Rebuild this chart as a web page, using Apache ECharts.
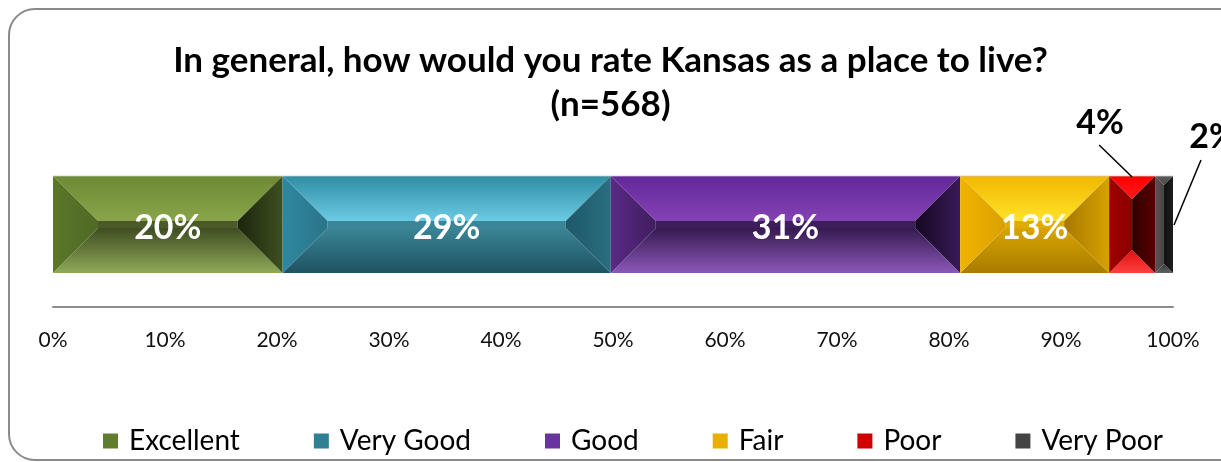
<!DOCTYPE html>
<html>
<head>
<meta charset="utf-8">
<script src="https://cdn.jsdelivr.net/npm/echarts@6/dist/echarts.min.js"></script>
<style>
html,body{margin:0;padding:0;background:#fff;}
#chart{width:1221px;height:462px;}
</style>
</head>
<body>
<div id="chart"></div>
<script>
// ---- data ----
const categories = ['Excellent', 'Very Good', 'Good', 'Fair', 'Poor', 'Very Poor'];
const values = [20.5, 29.3, 31.2, 13.3, 4.1, 1.6];
const valueLabels = ['20%', '29%', '31%', '13%', '4%', '2%'];
const tickLabels = ['0%', '10%', '20%', '30%', '40%', '50%', '60%', '70%', '80%', '90%', '100%'];
const titleText = 'In general, how would you rate Kansas as a place to live?\n(n=568)';

// ---- styles (bevel face colours) ----
const faces = {
  'Excellent': {top: ['#6e8a33', '#89a449'], bottom: ['#3f4d22', '#8fa958'], left: ['#5a772a', '#4e6a24'], right: ['#1b240c', '#3e5020'], mid: '#4a5a28', legend: '#5f7d2c'},
  'Very Good': {top: ['#2f8ea4', '#6ccbe4'], bottom: ['#3a8596', '#1f5262'], left: ['#2f88a0', '#2a7488'], right: ['#1d5868', '#2a6e80'], mid: '#3b8598', legend: '#2f7f95'},
  'Good': {top: ['#62289a', '#8442b4'], bottom: ['#351a50', '#8b58b8'], left: ['#5a2a86', '#3f1d5e'], right: ['#150822', '#3a1a58'], mid: '#3c1e5a', legend: '#6a34a0'},
  'Fair': {top: ['#f2b800', '#ffe22a'], bottom: ['#d8a400', '#a87c00'], left: ['#f0b400', '#d9a000'], right: ['#a87800', '#d6a200'], mid: '#e0ac00', legend: '#e8b000'},
  'Poor': {top: ['#ff0000', '#ff1a1a'], bottom: ['#e01010', '#ff4040'], left: ['#a00000', '#8a0000'], right: ['#300000', '#5a0000'], mid: '#900000', legend: '#d00000'},
  'Very Poor': {top: ['#5a5a5a', '#4a4a4a'], bottom: ['#3a3a3a', '#606060'], left: ['#555555', '#444444'], right: ['#0e0e0e', '#1e1e1e'], mid: '#222222', legend: '#444444'}
};
const FONT = 'Lato, "Open Sans", sans-serif';
const LABEL_FONT = 'bold 34px Lato, "Open Sans", sans-serif';

function grad(c, dir) {
  return dir === 'h'
    ? {type: 'linear', x: 0, y: 0, x2: 1, y2: 0, colorStops: [{offset: 0, color: c[0]}, {offset: 1, color: c[1]}]}
    : {type: 'linear', x: 0, y: 0, x2: 0, y2: 1, colorStops: [{offset: 0, color: c[0]}, {offset: 1, color: c[1]}]};
}

let cum = 0;
const series = categories.map(function (name, i) {
  const start = cum;
  cum += values[i];
  const f = faces[name];
  return {
    name: name,
    type: 'custom',
    itemStyle: {color: f.legend},
    encode: {x: [0, 1], y: 2},
    data: [[start, start + values[i], 0, values[i]]],
    renderItem: function (params, api) {
      const p1 = api.coord([api.value(0), 0]);
      const p2 = api.coord([api.value(1), 0]);
      const h = api.size([0, 1])[1];
      const x1 = p1[0], x2 = p2[0], cy = p1[1];
      const t = cy - h / 2, bot = cy + h / 2;
      const w = x2 - x1;
      const b = Math.min(45, w / 2, h / 2 - 2);
      const children = [
        {type: 'polygon', shape: {points: [[x1, t], [x2, t], [x2 - b, t + b], [x1 + b, t + b]]}, style: {fill: grad(f.top, 'v')}},
        {type: 'polygon', shape: {points: [[x1 + b, bot - b], [x2 - b, bot - b], [x2, bot], [x1, bot]]}, style: {fill: grad(f.bottom, 'v')}},
        {type: 'rect', shape: {x: x1 + b, y: t + b, width: Math.max(0, w - 2 * b), height: Math.max(0, h - 2 * b)}, style: {fill: f.mid}},
        {type: 'polygon', shape: {points: [[x1, t], [x1 + b, t + b], [x1 + b, bot - b], [x1, bot]]}, style: {fill: grad(f.left, 'h')}},
        {type: 'polygon', shape: {points: [[x2, t], [x2 - b, t + b], [x2 - b, bot - b], [x2, bot]]}, style: {fill: grad(f.right, 'h')}},
        {type: 'line', shape: {x1: x1, y1: t, x2: x2, y2: t}, style: {stroke: 'rgba(200,200,190,0.8)', lineWidth: 1}}
      ];
      const cx = (x1 + x2) / 2;
      const v = api.value(3);
      if (v >= 8) {
        children.push({type: 'text', style: {text: valueLabels[i], x: cx, y: cy + 4, align: 'center', verticalAlign: 'middle', fill: '#ffffff', font: LABEL_FONT}});
      } else if (v >= 3) {
        children.push({type: 'line', shape: {x1: cx - 33, y1: t - 31, x2: cx, y2: t + 1}, style: {stroke: '#000', lineWidth: 1.5}});
        children.push({type: 'text', style: {text: valueLabels[i], x: cx - 32, y: t - 53, align: 'center', verticalAlign: 'middle', fill: '#000', font: LABEL_FONT}});
      } else {
        children.push({type: 'line', shape: {x1: x2 + 28, y1: t - 16, x2: x2 + 1, y2: t + 49}, style: {stroke: '#000', lineWidth: 1.5}});
        children.push({type: 'text', style: {text: valueLabels[i], x: x2 + 40, y: t - 39, align: 'center', verticalAlign: 'middle', fill: '#000', font: LABEL_FONT}});
      }
      return {type: 'group', children: children};
    }
  };
});

const chart = echarts.init(document.getElementById('chart'), null, {renderer: 'canvas'});
chart.setOption({
  animation: false,
  backgroundColor: '#ffffff',
  graphic: [{
    type: 'rect', z: -10, silent: true,
    shape: {x: 9, y: 9, width: 1250, height: 451, r: 26},
    style: {fill: '#ffffff', stroke: '#8a8a8a', lineWidth: 2}
  }],
  title: {
    text: titleText,
    left: 'center', top: 34,
    textStyle: {fontFamily: FONT, fontWeight: 'bold', fontSize: 35, lineHeight: 44, color: '#000'}
  },
  grid: {left: 53, right: 48, top: 176, height: 97, containLabel: false},
  xAxis: {
    type: 'value', min: 0, max: 100, interval: 10, offset: 34,
    axisLine: {show: true, lineStyle: {color: '#8c8c8c', width: 2}},
    axisTick: {show: false},
    splitLine: {show: false},
    axisLabel: {
      margin: 23, color: '#111', fontSize: 21, fontFamily: FONT,
      formatter: function (v) { return tickLabels[Math.round(v / 10)]; }
    }
  },
  yAxis: {type: 'category', data: [''], show: false},
  legend: {
    data: categories, bottom: 2, left: 98,
    icon: 'rect', itemWidth: 15, itemHeight: 15, itemGap: 74,
    textStyle: {fontSize: 28, color: '#000', fontFamily: FONT, padding: [0, 0, 0, 6]}
  },
  series: series
});
</script>
</body>
</html>
